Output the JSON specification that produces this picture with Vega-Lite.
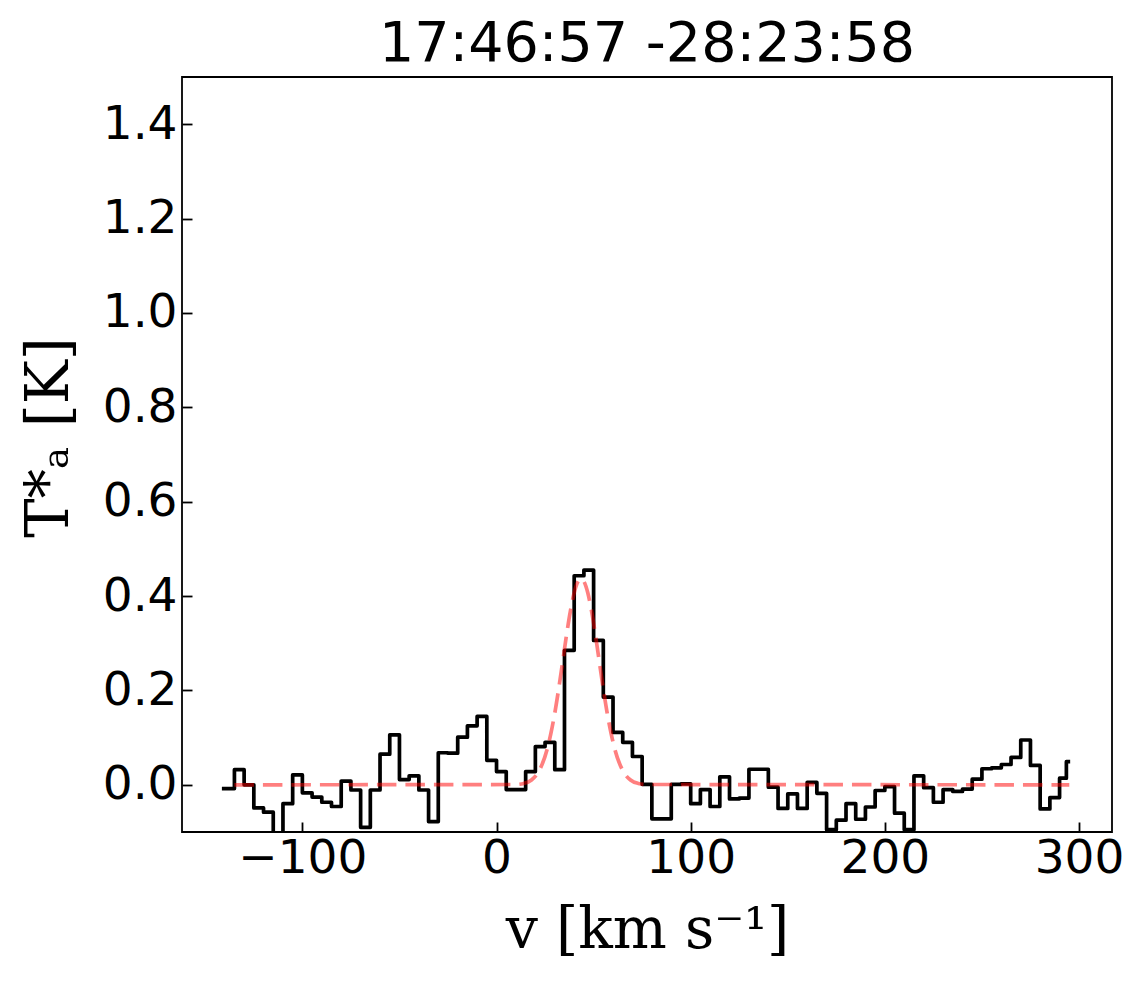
{
  "$schema": "https://vega.github.io/schema/vega-lite/v6.json",
  "width": 930,
  "height": 755,
  "autosize": "none",
  "padding": {"left": 182, "top": 77, "right": 35, "bottom": 152},
  "background": "white",
  "title": {
    "text": "17:46:57 -28:23:58",
    "font": "DejaVu Sans",
    "fontSize": 55.5,
    "fontWeight": "normal",
    "color": "black",
    "anchor": "middle",
    "offset": 5
  },
  "config": {
    "view": {"stroke": "black", "strokeWidth": 1.8},
    "axis": {
      "grid": false,
      "domain": false,
      "tickColor": "black",
      "tickWidth": 1.8,
      "tickSize": -10,
      "labelColor": "black",
      "labelFont": "DejaVu Sans",
      "labelFontSize": 47,
      "titleColor": "black",
      "titleFont": "DejaVu Serif",
      "titleFontSize": 57,
      "titleFontWeight": "normal"
    }
  },
  "datasets": {
    "spectrum": [
      {"v": -140.5, "t": -0.008},
      {"v": -137.5, "t": -0.008},
      {"v": -132.5, "t": 0.032},
      {"v": -127.5, "t": 0.000},
      {"v": -122.5, "t": -0.049},
      {"v": -117.5, "t": -0.058},
      {"v": -112.5, "t": -0.120},
      {"v": -107.5, "t": -0.040},
      {"v": -102.5, "t": 0.021},
      {"v": -97.5, "t": -0.017},
      {"v": -92.5, "t": -0.026},
      {"v": -87.5, "t": -0.037},
      {"v": -82.5, "t": -0.046},
      {"v": -77.5, "t": 0.008},
      {"v": -72.5, "t": -0.011},
      {"v": -67.5, "t": -0.090},
      {"v": -62.5, "t": -0.011},
      {"v": -57.5, "t": 0.065},
      {"v": -52.5, "t": 0.106},
      {"v": -47.5, "t": 0.011},
      {"v": -42.5, "t": 0.019},
      {"v": -37.5, "t": -0.011},
      {"v": -32.5, "t": -0.078},
      {"v": -27.5, "t": 0.068},
      {"v": -22.5, "t": 0.067},
      {"v": -17.5, "t": 0.101},
      {"v": -12.5, "t": 0.125},
      {"v": -7.5, "t": 0.145},
      {"v": -2.5, "t": 0.052},
      {"v": 2.5, "t": 0.028},
      {"v": 7.5, "t": -0.010},
      {"v": 12.5, "t": -0.010},
      {"v": 17.5, "t": 0.028},
      {"v": 22.5, "t": 0.081},
      {"v": 27.5, "t": 0.090},
      {"v": 32.5, "t": 0.032},
      {"v": 37.5, "t": 0.285},
      {"v": 42.5, "t": 0.443},
      {"v": 47.5, "t": 0.455},
      {"v": 52.5, "t": 0.306},
      {"v": 57.5, "t": 0.186},
      {"v": 62.5, "t": 0.111},
      {"v": 67.5, "t": 0.090},
      {"v": 72.5, "t": 0.060},
      {"v": 77.5, "t": 0.001},
      {"v": 82.5, "t": -0.072},
      {"v": 87.5, "t": -0.072},
      {"v": 92.5, "t": 0.001},
      {"v": 97.5, "t": 0.002},
      {"v": 102.5, "t": -0.040},
      {"v": 107.5, "t": -0.010},
      {"v": 112.5, "t": -0.046},
      {"v": 117.5, "t": 0.017},
      {"v": 122.5, "t": -0.030},
      {"v": 127.5, "t": -0.028},
      {"v": 132.5, "t": 0.033},
      {"v": 137.5, "t": 0.033},
      {"v": 142.5, "t": -0.005},
      {"v": 147.5, "t": -0.050},
      {"v": 152.5, "t": -0.019},
      {"v": 157.5, "t": -0.050},
      {"v": 162.5, "t": 0.005},
      {"v": 167.5, "t": -0.018},
      {"v": 172.5, "t": -0.095},
      {"v": 177.5, "t": -0.075},
      {"v": 182.5, "t": -0.040},
      {"v": 187.5, "t": -0.073},
      {"v": 192.5, "t": -0.047},
      {"v": 197.5, "t": -0.012},
      {"v": 202.5, "t": -0.004},
      {"v": 207.5, "t": -0.060},
      {"v": 212.5, "t": -0.095},
      {"v": 217.5, "t": 0.019},
      {"v": 222.5, "t": -0.006},
      {"v": 227.5, "t": -0.037},
      {"v": 232.5, "t": -0.010},
      {"v": 237.5, "t": -0.014},
      {"v": 242.5, "t": -0.009},
      {"v": 247.5, "t": 0.012},
      {"v": 252.5, "t": 0.034},
      {"v": 257.5, "t": 0.036},
      {"v": 262.5, "t": 0.043},
      {"v": 267.5, "t": 0.058},
      {"v": 272.5, "t": 0.095},
      {"v": 277.5, "t": 0.041},
      {"v": 282.5, "t": -0.051},
      {"v": 287.5, "t": -0.027},
      {"v": 292.5, "t": 0.014},
      {"v": 294.5, "t": 0.049}
    ],
    "fit": [
      {"v": -135, "t": 0},
      {"v": 10, "t": 0.0007},
      {"v": 14, "t": 0.0029},
      {"v": 18, "t": 0.0102},
      {"v": 22, "t": 0.0302},
      {"v": 26, "t": 0.0744},
      {"v": 28, "t": 0.109},
      {"v": 30, "t": 0.152},
      {"v": 32, "t": 0.203},
      {"v": 34, "t": 0.259},
      {"v": 36, "t": 0.316},
      {"v": 38, "t": 0.367},
      {"v": 40, "t": 0.407},
      {"v": 42, "t": 0.431},
      {"v": 43.5, "t": 0.437},
      {"v": 45, "t": 0.431},
      {"v": 47, "t": 0.407},
      {"v": 49, "t": 0.367},
      {"v": 51, "t": 0.316},
      {"v": 53, "t": 0.259},
      {"v": 55, "t": 0.203},
      {"v": 57, "t": 0.152},
      {"v": 59, "t": 0.109},
      {"v": 61, "t": 0.0744},
      {"v": 65, "t": 0.0302},
      {"v": 69, "t": 0.0102},
      {"v": 73, "t": 0.0029},
      {"v": 77, "t": 0.0007},
      {"v": 295, "t": 0}
    ]
  },
  "layer": [
    {
      "data": {"name": "spectrum"},
      "mark": {"type": "line", "interpolate": "step", "color": "black", "strokeWidth": 3.7, "strokeJoin": "round", "strokeCap": "square", "clip": true},
      "encoding": {
        "x": {
          "field": "v", "type": "quantitative",
          "scale": {"domain": [-162, 317], "nice": false, "zero": false},
          "axis": {"values": [-100, 0, 100, 200, 300], "format": "d", "labelPadding": 13, "title": "v [km s⁻¹]", "titlePadding": 21}
        },
        "y": {
          "field": "t", "type": "quantitative",
          "scale": {"domain": [-0.1, 1.5], "nice": false, "zero": false},
          "axis": {"values": [0, 0.2, 0.4, 0.6, 0.8, 1.0, 1.2, 1.4], "format": ".1f", "labelPadding": 15, "title": "T*ₐ [K]", "titleFontSize": 59, "titlePadding": 23, "titleY": 360}
        }
      }
    },
    {
      "data": {"name": "fit"},
      "mark": {"type": "line", "interpolate": "monotone", "color": "red", "opacity": 0.5, "strokeWidth": 3.7, "strokeDash": [19.5, 9], "strokeCap": "butt", "clip": true},
      "encoding": {
        "x": {"field": "v", "type": "quantitative"},
        "y": {"field": "t", "type": "quantitative"}
      }
    }
  ]
}
